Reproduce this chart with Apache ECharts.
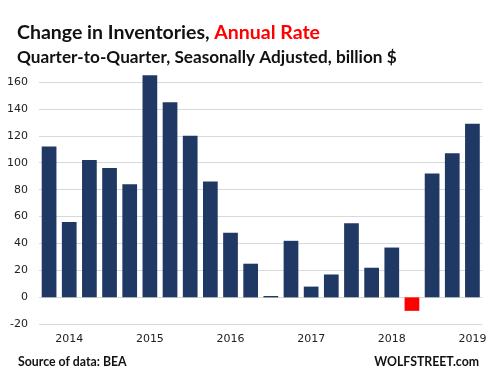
<!DOCTYPE html>
<html><head><meta charset="utf-8">
<script src="https://cdn.jsdelivr.net/npm/echarts@6/dist/echarts.min.js"></script>
<style>html,body{margin:0;padding:0;background:#fff}#c{width:492px;height:378px}</style>
</head><body><div id="c"></div>
<script>
const categories = ['2013 Q4','2014 Q1','2014 Q2','2014 Q3','2014 Q4','2015 Q1','2015 Q2','2015 Q3','2015 Q4','2016 Q1','2016 Q2','2016 Q3','2016 Q4','2017 Q1','2017 Q2','2017 Q3','2017 Q4','2018 Q1','2018 Q2','2018 Q3','2018 Q4','2019 Q1'];
const values = [112, 56, 102, 96, 84, 165, 145, 120, 86, 48, 25, 1, 42, 8, 17, 55, 22, 37, -10, 92, 107, 129];
const yTicks = [-20, 0, 20, 40, 60, 80, 100, 120, 140, 160];

const chart = echarts.init(document.getElementById('c'));
chart.setOption({
  animation: false,
  backgroundColor: '#fff',
  title: [{
    left: 12, top: 18,
    text: '{a|Change in Inventories, }{b|Annual Rate}',
    textStyle: { rich: {
      a: { fontFamily: 'Lato', fontWeight: 'bold', fontSize: 19.5, color: '#111' },
      b: { fontFamily: 'Lato', fontWeight: 'bold', fontSize: 19.5, color: '#ff0000' }
    }}
  }, {
    left: 12, top: 44,
    text: 'Quarter-to-Quarter, Seasonally Adjusted, billion $',
    textStyle: { fontFamily: 'Lato', fontWeight: 'bold', fontSize: 17.2, color: '#111' }
  }, {
    left: 13, top: 351,
    text: 'Source of data: BEA',
    textStyle: { fontFamily: 'Lato', fontWeight: 'bold', fontSize: 12.3, color: '#111' }
  }, {
    right: 8, top: 351,
    text: 'WOLFSTREET.com',
    textStyle: { fontFamily: 'Lato', fontWeight: 'bold', fontSize: 12.3, color: '#111' }
  }],
  grid: { left: 39, right: 9.5, top: 55, bottom: 53.7, containLabel: false },
  xAxis: {
    type: 'category', data: categories,
    axisLine: { show: false }, axisTick: { show: false },
    position: 'bottom',
    axisLabel: {
      interval: (i) => i % 4 === 1,
      formatter: (v) => v.slice(0, 4),
      fontFamily: 'DejaVu Sans', fontSize: 11, color: '#222', margin: 9
    }
  },
  yAxis: {
    type: 'value', min: -20, max: 180, interval: 20,
    axisLine: { show: false }, axisTick: { show: false },
    axisLabel: {
      formatter: (v) => yTicks.includes(v) ? String(v) : '',
      fontFamily: 'DejaVu Sans', fontSize: 11, color: '#222', margin: 11
    },
    splitLine: { showMaxLine: false, lineStyle: { color: '#d9d9d9', width: 1 } }
  },
  series: [{
    type: 'bar', data: values.map(v => ({ value: v, itemStyle: { color: v < 0 ? '#ff0000' : '#203864' } })),
    barCategoryGap: '27%'
  }]
});
</script></body></html>
